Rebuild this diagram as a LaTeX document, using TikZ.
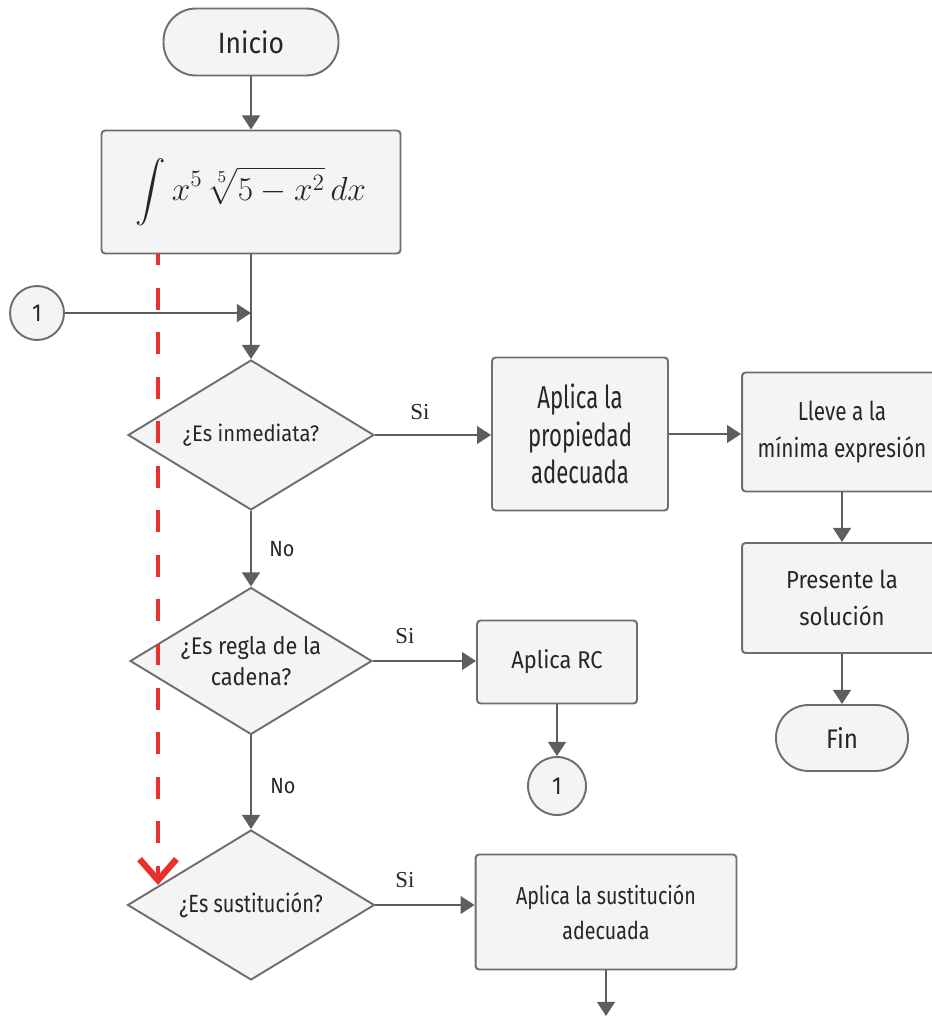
\RequirePackage{fix-cm}
\documentclass[tikz,border=0pt]{standalone}
\usepackage{amsmath}
\usepackage{fontspec}
\setmainfont{Fira Sans}[FakeStretch=0.9]
\newfontfamily\midfont{Fira Sans}[FakeStretch=0.8]
\newfontfamily\narrowfont{Fira Sans}[FakeStretch=0.7]
\newfontfamily\labelfont{Liberation Serif}
\usetikzlibrary{shapes.geometric,arrows.meta}
\definecolor{boxfill}{HTML}{F4F4F4}
\definecolor{boxline}{HTML}{6E6E6E}
\definecolor{arrowgray}{HTML}{5E5E5E}
\definecolor{flagred}{HTML}{E8302E}
\definecolor{inktext}{HTML}{262626}
\tikzset{
	base/.style={draw=boxline, line width=1.1pt, fill=boxfill, text=inktext, align=center, inner sep=0pt},
	terminal/.style={base, rectangle, rounded corners=0.65cm},
	proc/.style={base, rectangle, rounded corners=2pt},
	decision/.style={base, diamond, aspect=1.64},
	connector/.style={base, circle, font=\fontsize{14}{16}\selectfont},
	flow/.style={draw=arrowgray, line width=1.4pt, -{Triangle[length=8pt,width=10pt]}},
	redflag/.style={draw=flagred, line width=2.8pt, dash pattern=on 12.5pt off 12.8pt, dash phase=6pt, -{Straight Barb[length=12pt,width=21pt,line width=0.8pt 1]}},
	silabel/.style={text=inktext, font=\labelfont\fontsize{13}{15}\selectfont},
	nolabel/.style={text=inktext, font=\fontsize{12.5}{15}\selectfont}
}
\begin{document}
\begin{tikzpicture}[x=0.02cm,y=-0.02cm]
	\useasboundingbox (0,0) rectangle (931,1016);
	% columna principal
	\node[terminal, minimum width=3.5cm, minimum height=1.34cm, font=\fontsize{16.7}{20}\selectfont] (ini) at (251,42) {Inicio};
	\node[proc, minimum width=5.98cm, minimum height=2.46cm, font=\fontsize{19}{23}\selectfont] (int) at (251,192) {$\displaystyle\int x^5\,\sqrt[5]{5-x^2}\,dx$};
	\node[connector, minimum size=1.08cm] (c1a) at (37,313) {1};
	\coordinate (join) at (251,313);
	\node[decision, minimum width=4.92cm, minimum height=3cm, font=\fontsize{12.8}{17}\selectfont] (d1) at (251,435) {¿Es inmediata?};
	\node[decision, minimum width=4.84cm, minimum height=2.94cm, font=\fontsize{13.7}{18}\selectfont] (d2) at (251,661) {¿Es regla de la\\cadena?};
	\node[decision, minimum width=4.94cm, minimum height=3cm, font=\midfont\fontsize{14.2}{17}\selectfont] (d3) at (251,905) {¿Es sustitución?};
	% ramas del si
	\node[proc, minimum width=3.52cm, minimum height=3.06cm, font=\narrowfont\fontsize{18}{21.5}\selectfont] (prop) at (580,434) {Aplica la\\propiedad\\adecuada};
	\node[proc, minimum width=4cm, minimum height=2.38cm, font=\midfont\fontsize{14.8}{21.5}\selectfont] (lleve) at (842,432) {Lleve a la\\mínima expresión};
	\node[proc, minimum width=4cm, minimum height=2.2cm, font=\fontsize{14}{21.5}\selectfont] (pres) at (842,598) {Presente la\\solución};
	\node[terminal, minimum width=2.64cm, minimum height=1.32cm, font=\fontsize{15.3}{18}\selectfont] (fin) at (842,738) {Fin};
	\node[proc, minimum width=3.2cm, minimum height=1.66cm, font=\fontsize{13.8}{16}\selectfont] (rc) at (557,662) {Aplica RC};
	\node[connector, minimum size=1.16cm] (c1b) at (557,786) {1};
	\node[proc, minimum width=5.22cm, minimum height=2.3cm, font=\midfont\fontsize{14}{19.8}\selectfont] (sust) at (606,912) {Aplica la sustitución\\adecuada};
	\coordinate (sigue) at (606,1016);
	% flechas
	\draw[flow] (ini) -- (int);
	\draw[flow] (int) -- (d1);
	\draw[flow] (c1a) -- (join);
	\draw[flow] (d1) -- (d2);
	\draw[flow] (d2) -- (d3);
	\draw[flow] (d1.east) -- (d1.east -| prop.west);
	\draw[flow] (prop.east) -- (prop.east -| lleve.west);
	\draw[flow] (lleve) -- (pres);
	\draw[flow] (pres) -- (fin);
	\draw[flow] (d2.east) -- (d2.east -| rc.west);
	\draw[flow] (rc) -- (c1b);
	\draw[flow] (d3.east) -- (d3.east -| sust.west);
	\draw[flow] (sust) -- (sigue);
	% etiquetas
	\node[silabel] (si1) at (420,412) {Si};
	\node[silabel] (si2) at (405,636) {Si};
	\node[silabel] (si3) at (405,880) {Si};
	\node[nolabel] (no1) at (282,549) {No};
	\node[nolabel] (no2) at (283,786) {No};
	% marca roja
	\coordinate (rtop) at (158,254);
	\coordinate (rbot) at (158,885);
	\draw[redflag] (rtop) -- (rbot);
\end{tikzpicture}
\end{document}
